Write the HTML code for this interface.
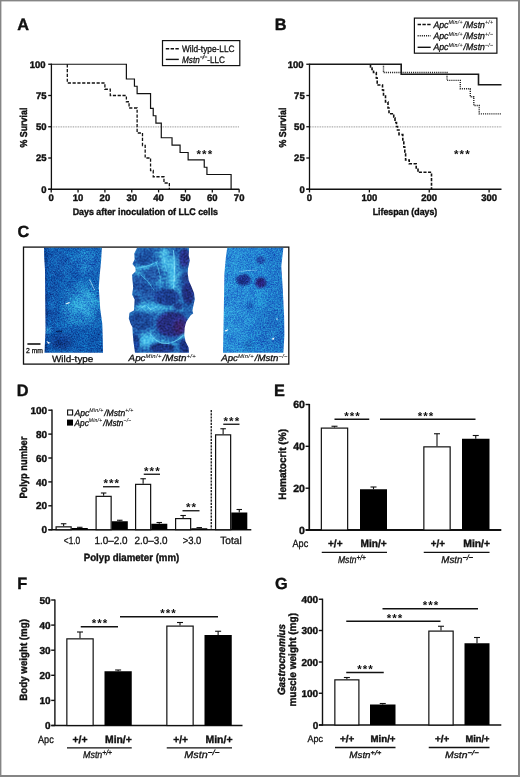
<!DOCTYPE html>
<html><head><meta charset="utf-8"><title>Figure</title>
<style>
html,body{margin:0;padding:0;background:#fff;}
svg{display:block;}
text{font-family:'Liberation Sans', sans-serif;fill:#111;text-rendering:geometricPrecision;}
</style></head>
<body>
<svg width="520" height="777" viewBox="0 0 520 777">
<rect x="0" y="0" width="520" height="777" fill="#858585"/>
<rect x="1.4" y="1.4" width="516.6" height="773.6" fill="#fff"/>
<text x="17.3" y="30.1" font-size="16.3" font-weight="bold" fill="#000" stroke="#000" stroke-width="0.35">A</text>
<text x="274.8" y="29.7" font-size="16.3" font-weight="bold" fill="#000" stroke="#000" stroke-width="0.35">B</text>
<text x="17.5" y="236.9" font-size="16.3" font-weight="bold" fill="#000" stroke="#000" stroke-width="0.35">C</text>
<text x="16.8" y="395.7" font-size="16.3" font-weight="bold" fill="#000" stroke="#000" stroke-width="0.35">D</text>
<text x="274.1" y="395.7" font-size="16.3" font-weight="bold" fill="#000" stroke="#000" stroke-width="0.35">E</text>
<text x="17.3" y="589.3" font-size="16.3" font-weight="bold" fill="#000" stroke="#000" stroke-width="0.35">F</text>
<text x="275.1" y="589.4" font-size="16.3" font-weight="bold" fill="#000" stroke="#000" stroke-width="0.35">G</text>
<line x1="51" y1="126.9" x2="239.3" y2="126.9" stroke="#8c8c8c" stroke-width="1" stroke-dasharray="0.9 0.8"/>
<line x1="51.4" y1="63.65" x2="51.4" y2="189.85" stroke="#111" stroke-width="1.3"/>
<line x1="48.199999999999996" y1="189.25" x2="239.3" y2="189.25" stroke="#111" stroke-width="1.3"/>
<line x1="48.199999999999996" y1="64.25" x2="51.4" y2="64.25" stroke="#111" stroke-width="1.3"/>
<text x="45.5" y="67.65" font-size="9.5" font-weight="bold" text-anchor="end" stroke="#111" stroke-width="0.4">100</text>
<line x1="48.199999999999996" y1="95.5" x2="51.4" y2="95.5" stroke="#111" stroke-width="1.3"/>
<text x="46.6" y="98.9" font-size="9.5" font-weight="bold" text-anchor="end" stroke="#111" stroke-width="0.4">75</text>
<line x1="48.199999999999996" y1="126.75" x2="51.4" y2="126.75" stroke="#111" stroke-width="1.3"/>
<text x="46.6" y="130.15" font-size="9.5" font-weight="bold" text-anchor="end" stroke="#111" stroke-width="0.4">50</text>
<line x1="48.199999999999996" y1="158.0" x2="51.4" y2="158.0" stroke="#111" stroke-width="1.3"/>
<text x="46.6" y="161.4" font-size="9.5" font-weight="bold" text-anchor="end" stroke="#111" stroke-width="0.4">25</text>
<line x1="48.199999999999996" y1="189.25" x2="51.4" y2="189.25" stroke="#111" stroke-width="1.3"/>
<text x="46.6" y="192.65" font-size="9.5" font-weight="bold" text-anchor="end" stroke="#111" stroke-width="0.4">0</text>
<line x1="51.2" y1="189.25" x2="51.2" y2="192.45" stroke="#111" stroke-width="1.3"/>
<text x="51.2" y="201.2" font-size="9.5" font-weight="bold" text-anchor="middle" stroke="#111" stroke-width="0.4">0</text>
<line x1="78.05000000000001" y1="189.25" x2="78.05000000000001" y2="192.45" stroke="#111" stroke-width="1.3"/>
<text x="78.05000000000001" y="201.2" font-size="9.5" font-weight="bold" text-anchor="middle" stroke="#111" stroke-width="0.4">10</text>
<line x1="104.9" y1="189.25" x2="104.9" y2="192.45" stroke="#111" stroke-width="1.3"/>
<text x="104.9" y="201.2" font-size="9.5" font-weight="bold" text-anchor="middle" stroke="#111" stroke-width="0.4">20</text>
<line x1="131.75" y1="189.25" x2="131.75" y2="192.45" stroke="#111" stroke-width="1.3"/>
<text x="131.75" y="201.2" font-size="9.5" font-weight="bold" text-anchor="middle" stroke="#111" stroke-width="0.4">30</text>
<line x1="158.60000000000002" y1="189.25" x2="158.60000000000002" y2="192.45" stroke="#111" stroke-width="1.3"/>
<text x="158.60000000000002" y="201.2" font-size="9.5" font-weight="bold" text-anchor="middle" stroke="#111" stroke-width="0.4">40</text>
<line x1="185.45" y1="189.25" x2="185.45" y2="192.45" stroke="#111" stroke-width="1.3"/>
<text x="185.45" y="201.2" font-size="9.5" font-weight="bold" text-anchor="middle" stroke="#111" stroke-width="0.4">50</text>
<line x1="212.3" y1="189.25" x2="212.3" y2="192.45" stroke="#111" stroke-width="1.3"/>
<text x="212.3" y="201.2" font-size="9.5" font-weight="bold" text-anchor="middle" stroke="#111" stroke-width="0.4">60</text>
<line x1="239.15000000000003" y1="189.25" x2="239.15000000000003" y2="192.45" stroke="#111" stroke-width="1.3"/>
<text x="239.15000000000003" y="201.2" font-size="9.5" font-weight="bold" text-anchor="middle" stroke="#111" stroke-width="0.4">70</text>
<text x="27.2" y="127.6" font-size="10" font-weight="bold" text-anchor="middle" textLength="40" lengthAdjust="spacingAndGlyphs" transform="rotate(-90 27.2 127.6)" stroke="#111" stroke-width="0.4">% Survial</text>
<path d="M67.31,64.25 L67.31,83.0 L104.9,83.0 L104.9,89.25 L110.27,89.25 L110.27,95.5 L126.38,95.5 L126.38,101.75 L129.06,101.75 L129.06,108.0 L137.12,108.0 L137.12,133.0 L142.49,133.0 L142.49,145.5 L145.18,145.5 L145.18,158.0 L150.55,158.0 L150.55,170.5 L153.23,170.5 L153.23,176.75 L163.97,176.75 L163.97,183.0 L169.34,183.0 L169.34,189.25" fill="none" stroke="#111" stroke-width="1.3" stroke-dasharray="3.2 1.6"/>
<path d="M51.2,64.25 L126.38,64.25 L126.38,79.0 L134.44,79.0 L134.44,86.25 L137.12,86.25 L137.12,93.62 L150.55,93.62 L150.55,108.38 L153.23,108.38 L153.23,115.75 L155.92,115.75 L155.92,123.12 L161.29,123.12 L161.29,137.75 L172.03,137.75 L172.03,145.12 L180.08,145.12 L180.08,152.5 L188.13,152.5 L188.13,159.88 L204.25,159.88 L204.25,167.25 L206.93,167.25 L206.93,174.5 L231.1,174.5 L231.1,189.25" fill="none" stroke="#111" stroke-width="1.2"/>
<text x="204.9" y="157.6" font-size="11.5" font-weight="bold" text-anchor="middle" fill="#666" letter-spacing="1.1" stroke="none">***</text>
<text x="72.7" y="214.8" font-size="9.6" font-weight="bold" textLength="145.2" lengthAdjust="spacingAndGlyphs" stroke="#111" stroke-width="0.4">Days after inoculation of LLC cells</text>
<rect x="162.5" y="40.6" width="77.3" height="25" fill="#fff" stroke="#111" stroke-width="1.2"/>
<line x1="165.8" y1="48.7" x2="178.8" y2="48.7" stroke="#111" stroke-width="1.4" stroke-dasharray="3.4 1.4"/>
<line x1="165.8" y1="59.4" x2="178.8" y2="59.4" stroke="#111" stroke-width="1.4"/>
<text x="182" y="52" font-size="9.3" textLength="52.5" lengthAdjust="spacingAndGlyphs" stroke="#111" stroke-width="0.3">Wild-type-LLC</text>
<text x="182" y="62.8" font-size="9.3" stroke="#111" stroke-width="0.3" textLength="43" lengthAdjust="spacingAndGlyphs"><tspan font-style="italic">Mstn</tspan><tspan font-size="6" dy="-3.4" font-style="italic">−/−</tspan><tspan dy="3.4">-LLC</tspan></text>
<line x1="310" y1="126.9" x2="501.5" y2="126.9" stroke="#8c8c8c" stroke-width="1" stroke-dasharray="0.9 0.8"/>
<line x1="309.5" y1="63.65" x2="309.5" y2="189.85" stroke="#111" stroke-width="1.3"/>
<line x1="306.3" y1="189.25" x2="501.5" y2="189.25" stroke="#111" stroke-width="1.3"/>
<line x1="306.3" y1="64.25" x2="309.5" y2="64.25" stroke="#111" stroke-width="1.3"/>
<text x="303.6" y="67.65" font-size="9.5" font-weight="bold" text-anchor="end" stroke="#111" stroke-width="0.4">100</text>
<line x1="306.3" y1="95.5" x2="309.5" y2="95.5" stroke="#111" stroke-width="1.3"/>
<text x="304.7" y="98.9" font-size="9.5" font-weight="bold" text-anchor="end" stroke="#111" stroke-width="0.4">75</text>
<line x1="306.3" y1="126.75" x2="309.5" y2="126.75" stroke="#111" stroke-width="1.3"/>
<text x="304.7" y="130.15" font-size="9.5" font-weight="bold" text-anchor="end" stroke="#111" stroke-width="0.4">50</text>
<line x1="306.3" y1="158.0" x2="309.5" y2="158.0" stroke="#111" stroke-width="1.3"/>
<text x="304.7" y="161.4" font-size="9.5" font-weight="bold" text-anchor="end" stroke="#111" stroke-width="0.4">25</text>
<line x1="306.3" y1="189.25" x2="309.5" y2="189.25" stroke="#111" stroke-width="1.3"/>
<text x="304.7" y="192.65" font-size="9.5" font-weight="bold" text-anchor="end" stroke="#111" stroke-width="0.4">0</text>
<line x1="309.5" y1="189.25" x2="309.5" y2="192.45" stroke="#111" stroke-width="1.3"/>
<text x="309.5" y="201.2" font-size="9.5" font-weight="bold" text-anchor="middle" stroke="#111" stroke-width="0.4">0</text>
<line x1="369.37" y1="189.25" x2="369.37" y2="192.45" stroke="#111" stroke-width="1.3"/>
<text x="369.37" y="201.2" font-size="9.5" font-weight="bold" text-anchor="middle" stroke="#111" stroke-width="0.4">100</text>
<line x1="429.24" y1="189.25" x2="429.24" y2="192.45" stroke="#111" stroke-width="1.3"/>
<text x="429.24" y="201.2" font-size="9.5" font-weight="bold" text-anchor="middle" stroke="#111" stroke-width="0.4">200</text>
<line x1="489.11" y1="189.25" x2="489.11" y2="192.45" stroke="#111" stroke-width="1.3"/>
<text x="489.11" y="201.2" font-size="9.5" font-weight="bold" text-anchor="middle" stroke="#111" stroke-width="0.4">300</text>
<text x="285.7" y="127.6" font-size="10" font-weight="bold" text-anchor="middle" textLength="40" lengthAdjust="spacingAndGlyphs" transform="rotate(-90 285.7 127.6)" stroke="#111" stroke-width="0.4">% Survial</text>
<path d="M370.5,64.25 L370.5,67 L372,67 L372,69.5 L373.5,69.5 L373.5,72.5 L376.3,72.5 L376.3,78 L377.2,78 L377.2,85 L382.5,85 L382.5,90 L383.5,90 L383.5,95 L385.5,95 L385.5,102 L388,102 L388,108 L389,108 L389,113.75 L393.75,113.75 L393.75,118 L395,118 L395,122.5 L396.5,122.5 L396.5,126.5 L397.5,126.5 L397.5,130 L399,130 L399,134.6 L402.8,134.6 L402.8,140 L403.8,140 L403.8,147 L404.8,147 L404.8,154 L405.6,154 L405.6,160 L409.2,160 L409.2,163.8 L416.2,163.8 L416.2,168 L418,168 L418,172.3 L431.5,172.3 L431.5,189.25" fill="none" stroke="#111" stroke-width="1.6" stroke-dasharray="3.1 1.5"/>
<path d="M383.5,64.25 L383.5,72.5 L447,72.5 L447,80.4 L460.3,80.4 L460.3,88.8 L470.3,88.8 L470.3,96.8 L473.8,96.8 L473.8,105.5 L479.2,105.5 L479.2,113.9 L501.5,113.9" fill="none" stroke="#222" stroke-width="1.4" stroke-dasharray="1.1 1"/>
<path d="M309.5,64.25 L401.2,64.25 L401.2,74.2 L478.5,74.2 L478.5,84.7 L501.5,84.7" fill="none" stroke="#181818" stroke-width="1.6"/>
<text x="462.4" y="157.6" font-size="11.5" font-weight="bold" text-anchor="middle" fill="#666" letter-spacing="1.1" stroke="none">***</text>
<text x="372.7" y="214.8" font-size="9.6" font-weight="bold" textLength="64.6" lengthAdjust="spacingAndGlyphs" stroke="#111" stroke-width="0.4">Lifespan (days)</text>
<rect x="414.4" y="18.1" width="82.5" height="35.1" fill="#fff" stroke="#111" stroke-width="1.2"/>
<line x1="417.6" y1="24.5" x2="430.7" y2="24.5" stroke="#111" stroke-width="1.4" stroke-dasharray="3.4 1.4"/>
<line x1="417.6" y1="35.8" x2="430.7" y2="35.8" stroke="#222" stroke-width="1.4" stroke-dasharray="1.1 1"/>
<line x1="417.6" y1="47.3" x2="430.7" y2="47.3" stroke="#111" stroke-width="1.4"/>
<text x="433.4" y="27.6" font-size="9.3" font-style="italic" stroke="#111" stroke-width="0.3" textLength="60" lengthAdjust="spacingAndGlyphs">Apc<tspan font-size="5.6" dy="-3.3" stroke-width="0.1" letter-spacing="0.3">Min/+</tspan><tspan dy="3.3" dx="0.8">/Mstn</tspan><tspan font-size="5.6" dy="-3.3" stroke-width="0.1" letter-spacing="0.3">+/+</tspan></text>
<text x="433.4" y="39" font-size="9.3" font-style="italic" stroke="#111" stroke-width="0.3" textLength="60" lengthAdjust="spacingAndGlyphs">Apc<tspan font-size="5.6" dy="-3.3" stroke-width="0.1" letter-spacing="0.3">Min/+</tspan><tspan dy="3.3" dx="0.8">/Mstn</tspan><tspan font-size="5.6" dy="-3.3" stroke-width="0.1" letter-spacing="0.3">+/−</tspan></text>
<text x="433.4" y="50.4" font-size="9.3" font-style="italic" stroke="#111" stroke-width="0.3" textLength="60" lengthAdjust="spacingAndGlyphs">Apc<tspan font-size="5.6" dy="-3.3" stroke-width="0.1" letter-spacing="0.3">Min/+</tspan><tspan dy="3.3" dx="0.8">/Mstn</tspan><tspan font-size="5.6" dy="-3.3" stroke-width="0.1" letter-spacing="0.3">−/−</tspan></text>
<defs>
<filter id="b1" x="-30%" y="-30%" width="160%" height="160%"><feGaussianBlur stdDeviation="1"/></filter>
<filter id="b05" x="-30%" y="-30%" width="160%" height="160%"><feGaussianBlur stdDeviation="0.45"/></filter>
<filter id="b2" x="-30%" y="-30%" width="160%" height="160%"><feGaussianBlur stdDeviation="2"/></filter>
<filter id="b3" x="-40%" y="-40%" width="180%" height="180%"><feGaussianBlur stdDeviation="3.5"/></filter>
<filter id="b6" x="-50%" y="-50%" width="200%" height="200%"><feGaussianBlur stdDeviation="6"/></filter>
<filter id="nz1" x="0" y="0" width="100%" height="100%" color-interpolation-filters="sRGB"><feTurbulence type="fractalNoise" baseFrequency="0.7" numOctaves="2" seed="7" result="t"/><feColorMatrix in="t" type="matrix" values="0.7 0 0 0 0.15  0.7 0 0 0 0.15  0.7 0 0 0 0.15  0 0 0 0 1" result="n"/><feTurbulence type="fractalNoise" baseFrequency="0.1" numOctaves="2" seed="10" result="t2"/><feColorMatrix in="t2" type="matrix" values="0 0.3 0 0 0.35  0 0.3 0 0 0.35  0 0.3 0 0 0.35  0 0 0 0 1" result="n2"/><feBlend in="n" in2="SourceGraphic" mode="overlay" result="o"/><feBlend in="n2" in2="o" mode="overlay" result="o2"/><feComposite in="o2" in2="SourceGraphic" operator="in"/></filter>
<filter id="nz2" x="0" y="0" width="100%" height="100%" color-interpolation-filters="sRGB"><feTurbulence type="fractalNoise" baseFrequency="0.5" numOctaves="2" seed="11" result="t"/><feColorMatrix in="t" type="matrix" values="0.55 0 0 0 0.225  0.55 0 0 0 0.225  0.55 0 0 0 0.225  0 0 0 0 1" result="n"/><feTurbulence type="fractalNoise" baseFrequency="0.12" numOctaves="2" seed="14" result="t2"/><feColorMatrix in="t2" type="matrix" values="0 0.3 0 0 0.35  0 0.3 0 0 0.35  0 0.3 0 0 0.35  0 0 0 0 1" result="n2"/><feBlend in="n" in2="SourceGraphic" mode="overlay" result="o"/><feBlend in="n2" in2="o" mode="overlay" result="o2"/><feComposite in="o2" in2="SourceGraphic" operator="in"/></filter>
<filter id="nz3" x="0" y="0" width="100%" height="100%" color-interpolation-filters="sRGB"><feTurbulence type="fractalNoise" baseFrequency="0.7" numOctaves="2" seed="5" result="t"/><feColorMatrix in="t" type="matrix" values="0.6 0 0 0 0.2  0.6 0 0 0 0.2  0.6 0 0 0 0.2  0 0 0 0 1" result="n"/><feTurbulence type="fractalNoise" baseFrequency="0.09" numOctaves="2" seed="8" result="t2"/><feColorMatrix in="t2" type="matrix" values="0 0.25 0 0 0.375  0 0.25 0 0 0.375  0 0.25 0 0 0.375  0 0 0 0 1" result="n2"/><feBlend in="n" in2="SourceGraphic" mode="overlay" result="o"/><feBlend in="n2" in2="o" mode="overlay" result="o2"/><feComposite in="o2" in2="SourceGraphic" operator="in"/></filter>
<clipPath id="c1"><path d="M44,247.7 L101.9,247.7 L101,262 L99.6,276 L98.8,287.5 L99.6,300 L100.2,308.7 L102.3,324 L102.8,340 L103,352.8 L44.5,352.8 L45.5,330 L45.2,300 L45,270 L44.2,258 Z"/></clipPath>
<clipPath id="c2"><path d="M189.1,247.7 L188.75,255.6 L189.8,260.6 L188,268.4 L187.7,273.3 L188.75,280.4 L191.2,286 L194,293.1 L194.8,299.5 L194,302.7 L192.4,310.5 L193.2,313.6 L190.9,315.1 L188.6,318.2 L186.2,322 L184.7,327.5 L184.3,335.2 L185.5,341.4 L188.6,347.6 L189,352.8 L135,352.8 L133.5,342 L132.8,334.7 L132.4,327.3 L130.6,323.7 L128.8,318.5 L129.5,312.7 L133.9,310.5 L134.3,305.3 L134.6,299.5 L132.1,294.5 L133.2,287.5 L132.5,280.4 L132.1,274.7 L135.7,271.2 L135.3,267.6 L132.5,264.1 L134.6,259.2 L134.3,253.5 L137.1,247.7 Z"/></clipPath>
<clipPath id="c3"><path d="M227.2,247.7 L283.4,247.7 L281.3,266.3 L282.7,287.7 L284.1,316 L284.4,335 L283.4,352.8 L223,352.8 L223.7,316 L224.4,273.5 L225.8,258 Z"/></clipPath>
<linearGradient id="g1" x1="0" y1="0" x2="1" y2="0"><stop offset="0" stop-color="#0d469c"/><stop offset="0.12" stop-color="#145cb0"/><stop offset="0.6" stop-color="#1766b9"/><stop offset="1" stop-color="#135fb3"/></linearGradient>
<linearGradient id="g3" x1="0" y1="0" x2="1" y2="0"><stop offset="0" stop-color="#2c90d8"/><stop offset="0.55" stop-color="#2484d2"/><stop offset="0.93" stop-color="#1f76c8"/><stop offset="1" stop-color="#0f3f98"/></linearGradient>
</defs>
<rect x="23.5" y="247.1" width="265.3" height="117" fill="#fff" stroke="#111" stroke-width="1.3"/>
<g clip-path="url(#c1)"><g filter="url(#nz1)">
<rect x="40" y="245" width="70" height="112" fill="url(#g1)"/>
<ellipse cx="83" cy="305" rx="14" ry="18" fill="#2c98d6" filter="url(#b6)" opacity="0.9"/>
<ellipse cx="86" cy="303" rx="8" ry="11" fill="#3aaae0" filter="url(#b3)" opacity="0.55"/>
<ellipse cx="70" cy="312" rx="7" ry="8" fill="#2f9cd8" filter="url(#b3)" opacity="0.5"/>
<ellipse cx="88" cy="262" rx="12" ry="10" fill="#2079c8" filter="url(#b6)" opacity="0.8"/>
<ellipse cx="61" cy="341" rx="11" ry="8" fill="#0c3888" filter="url(#b3)" opacity="0.9"/>
<ellipse cx="45.5" cy="300" rx="1.6" ry="55" fill="#0b3a8c" filter="url(#b1)" opacity="0.8"/>
<ellipse cx="54" cy="300" rx="4" ry="40" fill="#1050a6" filter="url(#b3)" opacity="0.5"/>
<rect x="76" y="328.5" width="30" height="26" fill="#0f52a8" filter="url(#b1)" opacity="0.7"/>
<ellipse cx="60" cy="265" rx="10" ry="12" fill="#145cb0" filter="url(#b6)" opacity="0.6"/>
<ellipse cx="49" cy="330" rx="3" ry="3.5" fill="#2a8ed0" filter="url(#b1)" opacity="0.8"/>
<path d="M89.5,279.5 L94.5,290" stroke="#a8dcf4" stroke-width="0.8" fill="none"/>
<path d="M65.8,304 L69.6,302.4" stroke="#e8f8ff" stroke-width="1.1" fill="none"/>
<path d="M46.5,341 L50.5,343 L48,343.8 Z" fill="#fff"/>
<path d="M56,331.5 L62,331.2" stroke="#082a70" stroke-width="1.3"/>
</g></g>
<g clip-path="url(#c2)"><g filter="url(#nz2)">
<rect x="124" y="245" width="76" height="112" fill="#2466b2"/>
<ellipse cx="165" cy="259" rx="5" ry="13" fill="#46b8e6" filter="url(#b2)" opacity="0.95"/>
<ellipse cx="172.5" cy="274" rx="5" ry="19" fill="#4cc2ec" filter="url(#b2)" opacity="0.95"/>
<ellipse cx="176" cy="296" rx="4" ry="8" fill="#3fb0e2" filter="url(#b2)" opacity="0.8"/>
<ellipse cx="148" cy="266" rx="14" ry="2.6" fill="#3ea8de" filter="url(#b1)" opacity="0.9" transform="rotate(-12 148 266)"/>
<ellipse cx="150" cy="307" rx="15" ry="4.5" fill="#45bae8" filter="url(#b2)" opacity="0.95"/>
<ellipse cx="172" cy="309" rx="12" ry="3" fill="#3aa6dc" filter="url(#b2)" opacity="0.8"/>
<ellipse cx="147.5" cy="340" rx="9.5" ry="7" fill="#48c0ec" filter="url(#b2)" opacity="0.95"/>
<ellipse cx="166" cy="343" rx="12" ry="2.5" fill="#3fb2e4" filter="url(#b1)" opacity="0.85" transform="rotate(8 166 343)"/>
<ellipse cx="183" cy="336" rx="5" ry="3" fill="#3cace0" filter="url(#b1)" opacity="0.8" transform="rotate(-30 183 336)"/>
<ellipse cx="160" cy="283" rx="4" ry="7" fill="#3ba6dc" filter="url(#b2)" opacity="0.7"/>
<ellipse cx="141" cy="275" rx="6" ry="2" fill="#3a9cd6" filter="url(#b1)" opacity="0.7" transform="rotate(20 141 275)"/>
<ellipse cx="180" cy="268" rx="2.5" ry="10" fill="#3a9cd6" filter="url(#b1)" opacity="0.6"/>
<ellipse cx="144.5" cy="257.5" rx="9" ry="7.5" fill="#1f4f9f" filter="url(#b1)" opacity="0.95"/>
<ellipse cx="184.5" cy="258" rx="5.5" ry="9.5" fill="#252f82" filter="url(#b1)" opacity="0.95"/>
<ellipse cx="153" cy="274.5" rx="8" ry="7.5" fill="#2054a4" filter="url(#b1)" opacity="0.95"/>
<ellipse cx="138.5" cy="284.5" rx="7" ry="8.5" fill="#2056a6" filter="url(#b1)" opacity="0.95"/>
<ellipse cx="150.5" cy="293.5" rx="9" ry="6.5" fill="#2054a4" filter="url(#b1)" opacity="0.95"/>
<ellipse cx="167" cy="297" rx="13" ry="8.5" fill="#1c3a8c" filter="url(#b1)" opacity="0.95"/>
<ellipse cx="188.5" cy="292" rx="6.5" ry="12" fill="#232e80" filter="url(#b1)" opacity="0.95"/>
<ellipse cx="187" cy="278" rx="5" ry="6" fill="#24408f" filter="url(#b1)" opacity="0.95"/>
<ellipse cx="172.2" cy="324.3" rx="16" ry="12.5" fill="#27297a" filter="url(#b1)" opacity="0.95"/>
<ellipse cx="141" cy="322" rx="13" ry="8.5" fill="#1e4898" filter="url(#b1)" opacity="0.95"/>
<ellipse cx="162" cy="348" rx="12" ry="5.5" fill="#1d3484" filter="url(#b1)" opacity="0.95"/>
<ellipse cx="135.5" cy="343" rx="4" ry="10" fill="#193888" filter="url(#b1)" opacity="0.95"/>
<ellipse cx="185.5" cy="346" rx="6" ry="8" fill="#1b3082" filter="url(#b1)" opacity="0.95"/>
<ellipse cx="178" cy="306" rx="5" ry="4" fill="#24408f" filter="url(#b1)" opacity="0.95"/>
<ellipse cx="136" cy="300" rx="4" ry="5" fill="#1c4898" filter="url(#b1)" opacity="0.95"/>
<ellipse cx="179.5" cy="327" rx="6" ry="7" fill="#55206e" filter="url(#b2)" opacity="0.55"/>
<path d="M134,268.5 Q146,268 158,261.5" fill="none" stroke="#5ccaf0" stroke-width="1.0" stroke-linecap="round" opacity="0.85" filter="url(#b05)"/>
<path d="M173.5,251 Q175.5,268 173.5,288" fill="none" stroke="#74d8f6" stroke-width="1.3" stroke-linecap="round" opacity="0.85" filter="url(#b05)"/>
<path d="M150,333.5 Q156,344 168,343.5 Q177,342 183,335.5" fill="none" stroke="#66d0f4" stroke-width="1.1" stroke-linecap="round" opacity="0.85" filter="url(#b05)"/>
<path d="M141,275 Q149,281 154,290" fill="none" stroke="#52c0ea" stroke-width="0.9" stroke-linecap="round" opacity="0.85" filter="url(#b05)"/>
<path d="M164,250 Q163,262 167,272" fill="none" stroke="#5ccaf0" stroke-width="1.0" stroke-linecap="round" opacity="0.85" filter="url(#b05)"/>
<path d="M139,309 L146,305 L151,310 L158,306" fill="none" stroke="#62ccf2" stroke-width="1.0" stroke-linecap="round" opacity="0.85" filter="url(#b05)"/>
<path d="M156,262 Q162,276 160,288" fill="none" stroke="#4ebce8" stroke-width="0.8" stroke-linecap="round" opacity="0.85" filter="url(#b05)"/>
</g></g>
<g clip-path="url(#c3)"><g filter="url(#nz3)">
<rect x="218" y="245" width="72" height="112" fill="url(#g3)"/>
<ellipse cx="238" cy="310" rx="12" ry="35" fill="#2a8cd6" filter="url(#b6)" opacity="0.6"/>
<ellipse cx="270" cy="330" rx="12" ry="25" fill="#1a6dc0" filter="url(#b6)" opacity="0.6"/>
<ellipse cx="260.7" cy="260" rx="4.5" ry="4.2" fill="#1a3e98" filter="url(#b1)" opacity="0.9"/>
<ellipse cx="243.6" cy="279.9" rx="7.5" ry="5.8" fill="#1c2e88" filter="url(#b1)" opacity="0.95"/>
<ellipse cx="260.7" cy="282.7" rx="5.5" ry="5.5" fill="#29247e" filter="url(#b1)" opacity="0.95"/>
<ellipse cx="250" cy="305.5" rx="3" ry="3" fill="#1859b2" filter="url(#b1)" opacity="0.8"/>
<ellipse cx="248.6" cy="345" rx="4.5" ry="5" fill="#1654ac" filter="url(#b2)" opacity="0.8"/>
<path d="M239,271.5 Q248,270 257,270.3" stroke="#7cc8ee" stroke-width="0.7" fill="none"/>
<path d="M224.5,330.5 L228.5,329.3 L226,331.8 Z" fill="#fff"/>
<path d="M271.5,339 L274.5,337 L273.5,340 Z" fill="#fff"/>
<circle cx="277" cy="319" r="0.8" fill="#dff"/>
</g></g>
<line x1="27.4" y1="344" x2="40.5" y2="344" stroke="#111" stroke-width="1.6"/>
<text x="26" y="352.6" font-size="7.2" textLength="17" lengthAdjust="spacingAndGlyphs" stroke="#111" stroke-width="0.3">2 mm</text>
<text x="52" y="361.5" font-size="9.2" textLength="41.4" lengthAdjust="spacingAndGlyphs" stroke="#111" stroke-width="0.3">Wild-type</text>
<text x="128.6" y="361.1" font-size="9" font-style="italic" stroke="#111" stroke-width="0.3" textLength="67.4" lengthAdjust="spacingAndGlyphs">Apc<tspan font-size="5.4" dy="-3.2" stroke-width="0.1" letter-spacing="0.3">Min/+</tspan><tspan dy="3.2" dx="0.8">/Mstn</tspan><tspan font-size="5.4" dy="-3.2" stroke-width="0.1" letter-spacing="0.3">+/+</tspan></text>
<text x="221.2" y="361.1" font-size="9" font-style="italic" stroke="#111" stroke-width="0.3" textLength="66.6" lengthAdjust="spacingAndGlyphs">Apc<tspan font-size="5.4" dy="-3.2" stroke-width="0.1" letter-spacing="0.3">Min/+</tspan><tspan dy="3.2" dx="0.8">/Mstn</tspan><tspan font-size="5.4" dy="-3.2" stroke-width="0.1" letter-spacing="0.3">−/−</tspan></text>
<line x1="52" y1="409.6" x2="52" y2="530.3000000000001" stroke="#111" stroke-width="1.4"/>
<line x1="48.5" y1="529.7" x2="251.3" y2="529.7" stroke="#111" stroke-width="1.6"/>
<line x1="48.3" y1="529.7" x2="52" y2="529.7" stroke="#111" stroke-width="1.4"/>
<text x="47.1" y="533.3000000000001" font-size="10" font-weight="bold" text-anchor="end" stroke="#111" stroke-width="0.4">0</text>
<line x1="48.3" y1="505.80000000000007" x2="52" y2="505.80000000000007" stroke="#111" stroke-width="1.4"/>
<text x="47.1" y="509.4000000000001" font-size="10" font-weight="bold" text-anchor="end" stroke="#111" stroke-width="0.4">20</text>
<line x1="48.3" y1="481.90000000000003" x2="52" y2="481.90000000000003" stroke="#111" stroke-width="1.4"/>
<text x="47.1" y="485.50000000000006" font-size="10" font-weight="bold" text-anchor="end" stroke="#111" stroke-width="0.4">40</text>
<line x1="48.3" y1="458.00000000000006" x2="52" y2="458.00000000000006" stroke="#111" stroke-width="1.4"/>
<text x="47.1" y="461.6000000000001" font-size="10" font-weight="bold" text-anchor="end" stroke="#111" stroke-width="0.4">60</text>
<line x1="48.3" y1="434.1" x2="52" y2="434.1" stroke="#111" stroke-width="1.4"/>
<text x="47.1" y="437.70000000000005" font-size="10" font-weight="bold" text-anchor="end" stroke="#111" stroke-width="0.4">80</text>
<line x1="48.3" y1="410.20000000000005" x2="52" y2="410.20000000000005" stroke="#111" stroke-width="1.4"/>
<text x="47.1" y="413.80000000000007" font-size="10" font-weight="bold" text-anchor="end" stroke="#111" stroke-width="0.4">100</text>
<text x="26.7" y="467.6" font-size="10.5" font-weight="bold" text-anchor="middle" textLength="62" lengthAdjust="spacingAndGlyphs" transform="rotate(-90 26.7 467.6)" stroke="#111" stroke-width="0.4">Polyp number</text>
<line x1="63.625" y1="523.75" x2="63.625" y2="526.25" stroke="#111" stroke-width="1.1"/>
<line x1="60.875" y1="523.75" x2="66.375" y2="523.75" stroke="#111" stroke-width="1.1"/>
<rect x="56.1" y="526.85" width="15.05" height="2.85" fill="#fff" stroke="#111" stroke-width="1.2"/>
<line x1="79.775" y1="527.3" x2="79.775" y2="528" stroke="#111" stroke-width="1.1"/>
<line x1="77.025" y1="527.3" x2="82.525" y2="527.3" stroke="#111" stroke-width="1.1"/>
<rect x="71.75" y="528" width="16.05" height="1.7" fill="#000"/>
<line x1="103.625" y1="493" x2="103.625" y2="495.75" stroke="#111" stroke-width="1.1"/>
<line x1="100.875" y1="493" x2="106.375" y2="493" stroke="#111" stroke-width="1.1"/>
<rect x="96.1" y="496.35" width="15.05" height="33.35" fill="#fff" stroke="#111" stroke-width="1.2"/>
<line x1="119.775" y1="520.25" x2="119.775" y2="521.25" stroke="#111" stroke-width="1.1"/>
<line x1="117.025" y1="520.25" x2="122.525" y2="520.25" stroke="#111" stroke-width="1.1"/>
<rect x="111.75" y="521.25" width="16.05" height="8.45" fill="#000"/>
<line x1="143.125" y1="478.75" x2="143.125" y2="483.75" stroke="#111" stroke-width="1.1"/>
<line x1="140.375" y1="478.75" x2="145.875" y2="478.75" stroke="#111" stroke-width="1.1"/>
<rect x="135.6" y="484.35" width="15.05" height="45.35" fill="#fff" stroke="#111" stroke-width="1.2"/>
<line x1="159.275" y1="522.5" x2="159.275" y2="523.75" stroke="#111" stroke-width="1.1"/>
<line x1="156.525" y1="522.5" x2="162.025" y2="522.5" stroke="#111" stroke-width="1.1"/>
<rect x="151.25" y="523.75" width="16.05" height="5.95" fill="#000"/>
<line x1="183.125" y1="515.5" x2="183.125" y2="518" stroke="#111" stroke-width="1.1"/>
<line x1="180.375" y1="515.5" x2="185.875" y2="515.5" stroke="#111" stroke-width="1.1"/>
<rect x="175.6" y="518.6" width="15.05" height="11.1" fill="#fff" stroke="#111" stroke-width="1.2"/>
<line x1="199.275" y1="527.6" x2="199.275" y2="528.25" stroke="#111" stroke-width="1.1"/>
<line x1="196.525" y1="527.6" x2="202.025" y2="527.6" stroke="#111" stroke-width="1.1"/>
<rect x="191.25" y="528.25" width="16.05" height="1.45" fill="#000"/>
<line x1="223.125" y1="428.75" x2="223.125" y2="434.25" stroke="#111" stroke-width="1.1"/>
<line x1="220.375" y1="428.75" x2="225.875" y2="428.75" stroke="#111" stroke-width="1.1"/>
<rect x="215.6" y="434.85" width="15.05" height="94.85" fill="#fff" stroke="#111" stroke-width="1.2"/>
<line x1="239.275" y1="509.5" x2="239.275" y2="512.5" stroke="#111" stroke-width="1.1"/>
<line x1="236.525" y1="509.5" x2="242.025" y2="509.5" stroke="#111" stroke-width="1.1"/>
<rect x="231.25" y="512.5" width="16.05" height="17.2" fill="#000"/>
<line x1="211.25" y1="410" x2="211.25" y2="529.7" stroke="#111" stroke-width="1.3" stroke-dasharray="2.2 1"/>
<line x1="103" y1="486.75" x2="119.5" y2="486.75" stroke="#111" stroke-width="1.3"/>
<text x="111.8" y="487.35" font-size="11.5" font-weight="bold" text-anchor="middle" fill="#5c5c5c" letter-spacing="1.1" stroke="none">***</text>
<line x1="143.75" y1="474.25" x2="160" y2="474.25" stroke="#111" stroke-width="1.3"/>
<text x="152.425" y="474.85" font-size="11.5" font-weight="bold" text-anchor="middle" fill="#5c5c5c" letter-spacing="1.1" stroke="none">***</text>
<line x1="182.5" y1="510.75" x2="199.5" y2="510.75" stroke="#111" stroke-width="1.3"/>
<text x="191.55" y="511.35" font-size="11.5" font-weight="bold" text-anchor="middle" fill="#5c5c5c" letter-spacing="1.1" stroke="none">**</text>
<line x1="223.25" y1="424.25" x2="239.5" y2="424.25" stroke="#111" stroke-width="1.3"/>
<text x="231.925" y="424.85" font-size="11.5" font-weight="bold" text-anchor="middle" fill="#5c5c5c" letter-spacing="1.1" stroke="none">***</text>
<text x="72" y="544" font-size="10.5" text-anchor="middle" textLength="16.5" lengthAdjust="spacingAndGlyphs" stroke="#111" stroke-width="0.3">&lt;1.0</text>
<text x="111" y="544" font-size="10.5" text-anchor="middle" textLength="33" lengthAdjust="spacingAndGlyphs" stroke="#111" stroke-width="0.3">1.0–2.0</text>
<text x="151" y="544" font-size="10.5" text-anchor="middle" textLength="33" lengthAdjust="spacingAndGlyphs" stroke="#111" stroke-width="0.3">2.0–3.0</text>
<text x="192" y="544" font-size="10.5" text-anchor="middle" textLength="18.7" lengthAdjust="spacingAndGlyphs" stroke="#111" stroke-width="0.3">&gt;3.0</text>
<text x="231" y="544" font-size="10.5" text-anchor="middle" textLength="21.5" lengthAdjust="spacingAndGlyphs" stroke="#111" stroke-width="0.3">Total</text>
<text x="131.5" y="561" font-size="10.5" font-weight="bold" text-anchor="middle" textLength="95.5" lengthAdjust="spacingAndGlyphs" stroke="#111" stroke-width="0.4">Polyp diameter (mm)</text>
<rect x="67.6" y="410" width="5" height="5" fill="#fff" stroke="#111" stroke-width="1.1"/>
<rect x="67" y="419.6" width="6" height="6" fill="#000"/>
<text x="74.5" y="415.6" font-size="9" font-style="italic" stroke="#111" stroke-width="0.3" textLength="59" lengthAdjust="spacingAndGlyphs">Apc<tspan font-size="5.4" dy="-3.2" stroke-width="0.1" letter-spacing="0.3">Min/+</tspan><tspan dy="3.2" dx="0.8">/Mstn</tspan><tspan font-size="5.4" dy="-3.2" stroke-width="0.1" letter-spacing="0.3">+/+</tspan></text>
<text x="74.5" y="425.6" font-size="9" font-style="italic" stroke="#111" stroke-width="0.3" textLength="57" lengthAdjust="spacingAndGlyphs">Apc<tspan font-size="5.4" dy="-3.2" stroke-width="0.1" letter-spacing="0.3">Min/+</tspan><tspan dy="3.2" dx="0.8">/Mstn</tspan><tspan font-size="5.4" dy="-3.2" stroke-width="0.1" letter-spacing="0.3">−/−</tspan></text>
<line x1="309.25" y1="403.9" x2="309.25" y2="530.6" stroke="#111" stroke-width="1.7"/>
<line x1="305.75" y1="530" x2="501.3" y2="530" stroke="#111" stroke-width="1.9"/>
<line x1="305.55" y1="404.5" x2="309.25" y2="404.5" stroke="#111" stroke-width="1.4"/>
<text x="304.95" y="408.28" font-size="10.5" font-weight="bold" text-anchor="end" stroke="#111" stroke-width="0.4">60</text>
<line x1="305.55" y1="446.3" x2="309.25" y2="446.3" stroke="#111" stroke-width="1.4"/>
<text x="304.95" y="450.08" font-size="10.5" font-weight="bold" text-anchor="end" stroke="#111" stroke-width="0.4">40</text>
<line x1="305.55" y1="488.2" x2="309.25" y2="488.2" stroke="#111" stroke-width="1.4"/>
<text x="304.95" y="491.97999999999996" font-size="10.5" font-weight="bold" text-anchor="end" stroke="#111" stroke-width="0.4">20</text>
<line x1="305.55" y1="530" x2="309.25" y2="530" stroke="#111" stroke-width="1.4"/>
<text x="304.95" y="533.78" font-size="10.5" font-weight="bold" text-anchor="end" stroke="#111" stroke-width="0.4">0</text>
<line x1="334.5" y1="426.25" x2="334.5" y2="427.5" stroke="#111" stroke-width="1.1"/>
<line x1="331.5" y1="426.25" x2="337.5" y2="426.25" stroke="#111" stroke-width="1.1"/>
<rect x="321.35" y="428.1" width="26.3" height="101.9" fill="#fff" stroke="#111" stroke-width="1.2"/>
<line x1="373.5" y1="487" x2="373.5" y2="489.25" stroke="#111" stroke-width="1.1"/>
<line x1="370.5" y1="487" x2="376.5" y2="487" stroke="#111" stroke-width="1.1"/>
<rect x="360" y="489.25" width="27" height="40.75" fill="#000"/>
<line x1="437.0" y1="433.75" x2="437.0" y2="446.25" stroke="#111" stroke-width="1.1"/>
<line x1="434.0" y1="433.75" x2="440.0" y2="433.75" stroke="#111" stroke-width="1.1"/>
<rect x="423.85" y="446.85" width="26.3" height="83.15" fill="#fff" stroke="#111" stroke-width="1.2"/>
<line x1="475.75" y1="435.5" x2="475.75" y2="438.75" stroke="#111" stroke-width="1.1"/>
<line x1="472.75" y1="435.5" x2="478.75" y2="435.5" stroke="#111" stroke-width="1.1"/>
<rect x="462" y="438.75" width="27.5" height="91.25" fill="#000"/>
<text x="292.5" y="547" font-size="10.5" textLength="15.7" lengthAdjust="spacingAndGlyphs" stroke="#111" stroke-width="0.3">Apc</text>
<text x="328" y="547" font-size="10.5" font-weight="bold" textLength="14.5" lengthAdjust="spacingAndGlyphs" stroke="#111" stroke-width="0.4">+/+</text>
<text x="360.5" y="547" font-size="10.5" font-weight="bold" textLength="26.2" lengthAdjust="spacingAndGlyphs" stroke="#111" stroke-width="0.4">Min/+</text>
<text x="430.75" y="547" font-size="10.5" font-weight="bold" textLength="14.2" lengthAdjust="spacingAndGlyphs" stroke="#111" stroke-width="0.4">+/+</text>
<text x="463.25" y="547" font-size="10.5" font-weight="bold" textLength="26.8" lengthAdjust="spacingAndGlyphs" stroke="#111" stroke-width="0.4">Min/+</text>
<line x1="321.75" y1="552.3" x2="387" y2="552.3" stroke="#111" stroke-width="1.3"/>
<line x1="423.75" y1="552.3" x2="489.5" y2="552.3" stroke="#111" stroke-width="1.3"/>
<text x="338" y="563.4" font-size="10.0" font-style="italic" stroke="#111" stroke-width="0.3" textLength="27.8" lengthAdjust="spacingAndGlyphs">Mstn<tspan font-size="7.5" dy="-3.4">+/+</tspan></text>
<text x="441.25" y="563.4" font-size="10.0" font-style="italic" stroke="#111" stroke-width="0.3" textLength="31.8" lengthAdjust="spacingAndGlyphs">Mstn<tspan font-size="7.5" dy="-3.4">−/−</tspan></text>
<text x="285.6" y="464.4" font-size="10.5" font-weight="bold" text-anchor="middle" textLength="70.8" lengthAdjust="spacingAndGlyphs" transform="rotate(-90 285.6 464.4)" stroke="#111" stroke-width="0.4">Hematocrit (%)</text>
<line x1="334.5" y1="419.25" x2="369.25" y2="419.25" stroke="#111" stroke-width="1.3"/>
<text x="352.55" y="419.85" font-size="11.5" font-weight="bold" text-anchor="middle" fill="#5c5c5c" letter-spacing="1.1" stroke="none">***</text>
<line x1="380" y1="419.25" x2="475.5" y2="419.25" stroke="#111" stroke-width="1.3"/>
<text x="426.05" y="419.85" font-size="11.5" font-weight="bold" text-anchor="middle" fill="#5c5c5c" letter-spacing="1.1" stroke="none">***</text>
<line x1="54.9" y1="599.4" x2="54.9" y2="726.1" stroke="#111" stroke-width="1.4"/>
<line x1="51.4" y1="725.5" x2="242.5" y2="725.5" stroke="#111" stroke-width="1.5999999999999999"/>
<line x1="51.199999999999996" y1="600" x2="54.9" y2="600" stroke="#111" stroke-width="1.4"/>
<text x="50.6" y="603.6" font-size="10" font-weight="bold" text-anchor="end" stroke="#111" stroke-width="0.4">50</text>
<line x1="51.199999999999996" y1="625.1" x2="54.9" y2="625.1" stroke="#111" stroke-width="1.4"/>
<text x="50.6" y="628.7" font-size="10" font-weight="bold" text-anchor="end" stroke="#111" stroke-width="0.4">40</text>
<line x1="51.199999999999996" y1="650.2" x2="54.9" y2="650.2" stroke="#111" stroke-width="1.4"/>
<text x="50.6" y="653.8000000000001" font-size="10" font-weight="bold" text-anchor="end" stroke="#111" stroke-width="0.4">30</text>
<line x1="51.199999999999996" y1="675.3" x2="54.9" y2="675.3" stroke="#111" stroke-width="1.4"/>
<text x="50.6" y="678.9" font-size="10" font-weight="bold" text-anchor="end" stroke="#111" stroke-width="0.4">20</text>
<line x1="51.199999999999996" y1="700.4" x2="54.9" y2="700.4" stroke="#111" stroke-width="1.4"/>
<text x="50.6" y="704.0" font-size="10" font-weight="bold" text-anchor="end" stroke="#111" stroke-width="0.4">10</text>
<line x1="51.199999999999996" y1="725.5" x2="54.9" y2="725.5" stroke="#111" stroke-width="1.4"/>
<text x="50.6" y="729.1" font-size="10" font-weight="bold" text-anchor="end" stroke="#111" stroke-width="0.4">0</text>
<line x1="80.0" y1="632" x2="80.0" y2="638.25" stroke="#111" stroke-width="1.1"/>
<line x1="77.0" y1="632" x2="83.0" y2="632" stroke="#111" stroke-width="1.1"/>
<rect x="66.85" y="638.85" width="26.3" height="86.65" fill="#fff" stroke="#111" stroke-width="1.2"/>
<line x1="118.125" y1="670" x2="118.125" y2="671.25" stroke="#111" stroke-width="1.1"/>
<line x1="115.125" y1="670" x2="121.125" y2="670" stroke="#111" stroke-width="1.1"/>
<rect x="104.5" y="671.25" width="27.25" height="54.25" fill="#000"/>
<line x1="180.0" y1="622.5" x2="180.0" y2="625.5" stroke="#111" stroke-width="1.1"/>
<line x1="177.0" y1="622.5" x2="183.0" y2="622.5" stroke="#111" stroke-width="1.1"/>
<rect x="166.85" y="626.1" width="26.3" height="99.4" fill="#fff" stroke="#111" stroke-width="1.2"/>
<line x1="218.125" y1="631.25" x2="218.125" y2="635" stroke="#111" stroke-width="1.1"/>
<line x1="215.125" y1="631.25" x2="221.125" y2="631.25" stroke="#111" stroke-width="1.1"/>
<rect x="204.5" y="635" width="27.25" height="90.5" fill="#000"/>
<text x="38" y="742.5" font-size="10.5" textLength="15.7" lengthAdjust="spacingAndGlyphs" stroke="#111" stroke-width="0.3">Apc</text>
<text x="72.5" y="742.5" font-size="10.5" font-weight="bold" textLength="15.0" lengthAdjust="spacingAndGlyphs" stroke="#111" stroke-width="0.4">+/+</text>
<text x="105" y="742.5" font-size="10.5" font-weight="bold" textLength="26.8" lengthAdjust="spacingAndGlyphs" stroke="#111" stroke-width="0.4">Min/+</text>
<text x="173.25" y="742.5" font-size="10.5" font-weight="bold" textLength="14.8" lengthAdjust="spacingAndGlyphs" stroke="#111" stroke-width="0.4">+/+</text>
<text x="205.5" y="742.5" font-size="10.5" font-weight="bold" textLength="27.0" lengthAdjust="spacingAndGlyphs" stroke="#111" stroke-width="0.4">Min/+</text>
<line x1="67" y1="747.8" x2="131.75" y2="747.8" stroke="#111" stroke-width="1.3"/>
<line x1="166.75" y1="747.8" x2="232" y2="747.8" stroke="#111" stroke-width="1.3"/>
<text x="83" y="758.3" font-size="10.0" font-style="italic" stroke="#111" stroke-width="0.3" textLength="29" lengthAdjust="spacingAndGlyphs">Mstn<tspan font-size="7.5" dy="-3.4">+/+</tspan></text>
<text x="184.25" y="758.3" font-size="10.0" font-style="italic" stroke="#111" stroke-width="0.3" textLength="35.2" lengthAdjust="spacingAndGlyphs">Mstn<tspan font-size="7.5" dy="-3.4">−/−</tspan></text>
<text x="26.6" y="659.9" font-size="10.5" font-weight="bold" text-anchor="middle" textLength="81.7" lengthAdjust="spacingAndGlyphs" transform="rotate(-90 26.6 659.9)" stroke="#111" stroke-width="0.4">Body weight (mg)</text>
<line x1="80.75" y1="626.75" x2="118" y2="626.75" stroke="#111" stroke-width="1.3"/>
<text x="100.05" y="627.35" font-size="11.5" font-weight="bold" text-anchor="middle" fill="#5c5c5c" letter-spacing="1.1" stroke="none">***</text>
<line x1="120" y1="616.75" x2="218" y2="616.75" stroke="#111" stroke-width="1.3"/>
<text x="168.55" y="617.35" font-size="11.5" font-weight="bold" text-anchor="middle" fill="#5c5c5c" letter-spacing="1.1" stroke="none">***</text>
<line x1="322.5" y1="598.65" x2="322.5" y2="725.6" stroke="#111" stroke-width="1.4"/>
<line x1="319.0" y1="725" x2="501.3" y2="725" stroke="#111" stroke-width="1.5999999999999999"/>
<line x1="318.8" y1="599.25" x2="322.5" y2="599.25" stroke="#111" stroke-width="1.4"/>
<text x="318.2" y="602.85" font-size="10" font-weight="bold" text-anchor="end" stroke="#111" stroke-width="0.4">400</text>
<line x1="318.8" y1="630.5" x2="322.5" y2="630.5" stroke="#111" stroke-width="1.4"/>
<text x="318.2" y="634.1" font-size="10" font-weight="bold" text-anchor="end" stroke="#111" stroke-width="0.4">300</text>
<line x1="318.8" y1="662" x2="322.5" y2="662" stroke="#111" stroke-width="1.4"/>
<text x="318.2" y="665.6" font-size="10" font-weight="bold" text-anchor="end" stroke="#111" stroke-width="0.4">200</text>
<line x1="318.8" y1="693.25" x2="322.5" y2="693.25" stroke="#111" stroke-width="1.4"/>
<text x="318.2" y="696.85" font-size="10" font-weight="bold" text-anchor="end" stroke="#111" stroke-width="0.4">100</text>
<line x1="318.8" y1="725" x2="322.5" y2="725" stroke="#111" stroke-width="1.4"/>
<text x="318.2" y="728.6" font-size="10" font-weight="bold" text-anchor="end" stroke="#111" stroke-width="0.4">0</text>
<line x1="346.875" y1="677.5" x2="346.875" y2="679.25" stroke="#111" stroke-width="1.1"/>
<line x1="343.875" y1="677.5" x2="349.875" y2="677.5" stroke="#111" stroke-width="1.1"/>
<rect x="334.85" y="679.85" width="24.05" height="45.15" fill="#fff" stroke="#111" stroke-width="1.2"/>
<line x1="382.75" y1="703.5" x2="382.75" y2="704.5" stroke="#111" stroke-width="1.1"/>
<line x1="379.75" y1="703.5" x2="385.75" y2="703.5" stroke="#111" stroke-width="1.1"/>
<rect x="370" y="704.5" width="25.5" height="20.5" fill="#000"/>
<line x1="441.0" y1="626.25" x2="441.0" y2="630.5" stroke="#111" stroke-width="1.1"/>
<line x1="438.0" y1="626.25" x2="444.0" y2="626.25" stroke="#111" stroke-width="1.1"/>
<rect x="428.85" y="631.1" width="24.3" height="93.9" fill="#fff" stroke="#111" stroke-width="1.2"/>
<line x1="477.0" y1="637.5" x2="477.0" y2="643.25" stroke="#111" stroke-width="1.1"/>
<line x1="474.0" y1="637.5" x2="480.0" y2="637.5" stroke="#111" stroke-width="1.1"/>
<rect x="464.5" y="643.25" width="25.0" height="81.75" fill="#000"/>
<text x="307.5" y="742" font-size="9.6" textLength="15.5" lengthAdjust="spacingAndGlyphs" stroke="#111" stroke-width="0.3">Apc</text>
<text x="340" y="742" font-size="9.6" font-weight="bold" textLength="14.2" lengthAdjust="spacingAndGlyphs" stroke="#111" stroke-width="0.4">+/+</text>
<text x="370.5" y="742" font-size="9.6" font-weight="bold" textLength="25.0" lengthAdjust="spacingAndGlyphs" stroke="#111" stroke-width="0.4">Min/+</text>
<text x="435" y="742" font-size="9.6" font-weight="bold" textLength="14.2" lengthAdjust="spacingAndGlyphs" stroke="#111" stroke-width="0.4">+/+</text>
<text x="465.5" y="742" font-size="9.6" font-weight="bold" textLength="24.0" lengthAdjust="spacingAndGlyphs" stroke="#111" stroke-width="0.4">Min/+</text>
<line x1="335" y1="747.5" x2="395.5" y2="747.5" stroke="#111" stroke-width="1.3"/>
<line x1="428.75" y1="747.5" x2="489.5" y2="747.5" stroke="#111" stroke-width="1.3"/>
<text x="349.25" y="758.3" font-size="9.1" font-style="italic" stroke="#111" stroke-width="0.3" textLength="32.0" lengthAdjust="spacingAndGlyphs">Mstn<tspan font-size="6.8" dy="-3.4">+/+</tspan></text>
<text x="445" y="758.3" font-size="9.1" font-style="italic" stroke="#111" stroke-width="0.3" textLength="33.8" lengthAdjust="spacingAndGlyphs">Mstn<tspan font-size="6.8" dy="-3.4">−/−</tspan></text>
<text x="284.5" y="659.5" font-size="10.5" font-weight="bold" font-style="italic" text-anchor="middle" textLength="71" lengthAdjust="spacingAndGlyphs" transform="rotate(-90 284.5 659.5)" stroke="#111" stroke-width="0.4">Gastrocnemius</text>
<text x="295.9" y="659.8" font-size="10.5" font-weight="bold" text-anchor="middle" textLength="93.6" lengthAdjust="spacingAndGlyphs" transform="rotate(-90 295.9 659.8)" stroke="#111" stroke-width="0.4">muscle weight (mg)</text>
<line x1="346.25" y1="672.5" x2="383.75" y2="672.5" stroke="#111" stroke-width="1.3"/>
<text x="365.55" y="673.1" font-size="11.5" font-weight="bold" text-anchor="middle" fill="#5c5c5c" letter-spacing="1.1" stroke="none">***</text>
<line x1="346.25" y1="621.25" x2="440.5" y2="621.25" stroke="#111" stroke-width="1.3"/>
<text x="395.05" y="621.85" font-size="11.5" font-weight="bold" text-anchor="middle" fill="#5c5c5c" letter-spacing="1.1" stroke="none">***</text>
<line x1="382.5" y1="608.75" x2="478" y2="608.75" stroke="#111" stroke-width="1.3"/>
<text x="431.05" y="609.35" font-size="11.5" font-weight="bold" text-anchor="middle" fill="#5c5c5c" letter-spacing="1.1" stroke="none">***</text>
</svg>
</body></html>
